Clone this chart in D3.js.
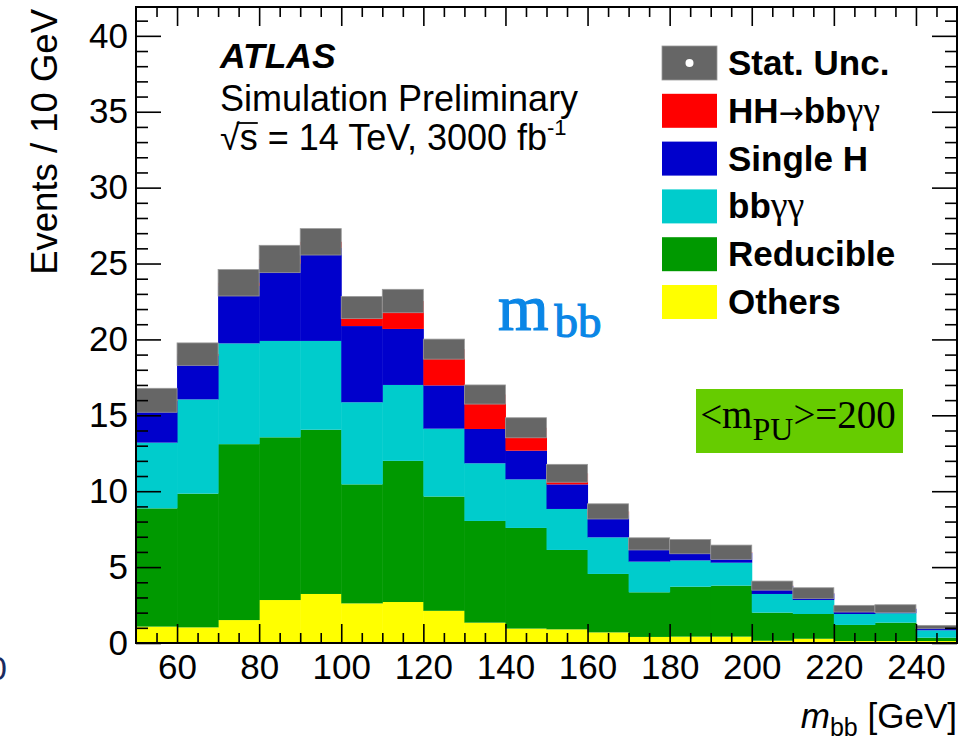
<!DOCTYPE html>
<html>
<head>
<meta charset="utf-8">
<script src="https://cdn.jsdelivr.net/npm/d3@7"></script>
<style>
  body { margin: 0; background: #fff; }
  svg { display: block; font-family: "Liberation Sans", Arial, sans-serif; }
</style>
</head>
<body>
<div id="chart"></div>
<script>
// bins of 10 GeV, lower edges
let binLow = [50, 60, 70, 80, 90, 100, 110, 120, 130, 140, 150, 160, 170, 180, 190, 200, 210, 220, 230, 240];
let binWidth = 10;

// stacked contributions, bottom to top
let others    = [1.08, 1.03, 1.51, 2.83, 3.23, 2.61, 2.70, 2.12, 1.34, 0.95, 0.90, 0.70, 0.40, 0.42, 0.42, 0.15, 0.28, 0.13, 0.13, 0.13];
let reducible = [7.79, 8.81, 11.59, 10.72, 10.82, 7.84, 9.30, 7.53, 6.70, 6.63, 5.23, 3.85, 2.94, 3.29, 3.36, 1.85, 1.63, 1.06, 1.21, 0.22];
let bbyy      = [4.33, 6.21, 6.64, 6.35, 5.85, 5.41, 5.00, 4.47, 3.80, 3.20, 2.70, 2.41, 2.02, 1.73, 1.51, 1.23, 0.92, 0.72, 0.62, 0.49];
let singleH   = [2.74, 2.88, 3.79, 5.10, 6.13, 5.02, 3.69, 2.85, 2.26, 1.89, 1.62, 1.46, 1.05, 0.83, 0.64, 0.52, 0.43, 0.33, 0.29, 0.20];
let hhSignal  = [0.05, 0.10, 0.20, 0.30, 0.40, 1.22, 1.84, 2.39, 2.27, 1.51, 0.73, 0.25, 0.12, 0.08, 0.05, 0.03, 0.02, 0.02, 0.01, 0.01];
let statUnc   = [0.79, 0.74, 0.87, 0.90, 0.87, 0.73, 0.77, 0.66, 0.63, 0.66, 0.59, 0.50, 0.40, 0.47, 0.47, 0.30, 0.36, 0.22, 0.26, 0.11];

let xMajorTicks = [60, 80, 100, 120, 140, 160, 180, 200, 220, 240];
let yMajorTicks = [0, 5, 10, 15, 20, 25, 30, 35, 40];

let layers = [
  { key: "others",    values: others,    color: "#ffff00", label: [["Others", "b"]] },
  { key: "reducible", values: reducible, color: "#009900", label: [["Reducible", "b"]] },
  { key: "bbyy",      values: bbyy,      color: "#00cccc", label: [["bb", "b"], ["γγ", "g"]] },
  { key: "singleH",   values: singleH,   color: "#0000cc", label: [["Single H", "b"]] },
  { key: "hh",        values: hhSignal,  color: "#ff0000", label: [["HH", "b"], ["→", "a"], ["bb", "b"], ["γγ", "g"]] }
];

let svgWidth = 972;
let svgHeight = 740;
let plot = { left: 136, right: 957, top: 7, bottom: 643 };

let svg = d3.select("#chart").append("svg").attr("width", svgWidth).attr("height", svgHeight);

let x = d3.scaleLinear().domain([50, 250]).range([plot.left, plot.right]);
let y = d3.scaleLinear().domain([0, 41.9]).range([plot.bottom, plot.top]);

// stacked table
let table = binLow.map((lo, i) => {
  let row = { lo: lo };
  layers.forEach(l => row[l.key] = l.values[i]);
  return row;
});
let stack = d3.stack().keys(layers.map(l => l.key))(table);

let histGroup = svg.append("g");
stack.forEach((series, si) => {
  histGroup.append("g")
    .attr("fill", layers[si].color)
    .selectAll("rect")
    .data(series)
    .enter()
    .append("rect")
    .attr("x", d => x(d.data.lo))
    .attr("width", d => x(d.data.lo + binWidth) - x(d.data.lo) + 0.5)
    .attr("y", d => y(d[1]))
    .attr("height", d => y(d[0]) - y(d[1]));
});

// stat. uncertainty band around the total
let totals = binLow.map((lo, i) => d3.sum(layers, l => l.values[i]));
histGroup.append("g")
  .selectAll("rect")
  .data(binLow)
  .enter()
  .append("rect")
  .attr("x", d => x(d))
  .attr("width", d => x(d + binWidth) - x(d))
  .attr("y", (d, i) => y(totals[i] + statUnc[i]))
  .attr("height", (d, i) => y(totals[i] - statUnc[i]) - y(totals[i] + statUnc[i]))
  .attr("fill", "#666666")
  .attr("stroke", "#999999")
  .attr("stroke-width", 0.8);

// Axes ==========================
let tickStyle = g => {
  g.select(".domain").remove();
  g.selectAll("line").attr("stroke", "#000").attr("stroke-width", 1.6);
  g.selectAll("text").attr("font-size", 35).attr("fill", "#000")
    .attr("font-family", "'Liberation Sans', Arial, sans-serif");
};

let xMinor = d3.range(55, 250, 5).filter(v => xMajorTicks.indexOf(v) < 0);
let yMinor = d3.range(1, 42, 1).filter(v => v % 5 !== 0);

// bottom
svg.append("g").attr("transform", `translate(0, ${plot.bottom})`)
  .call(d3.axisBottom(x).tickValues(xMajorTicks).tickSize(-19).tickPadding(11).tickFormat(d3.format("d")))
  .call(tickStyle);
svg.append("g").attr("transform", `translate(0, ${plot.bottom})`)
  .call(d3.axisBottom(x).tickValues(xMinor).tickSize(-10).tickFormat(""))
  .call(tickStyle);
// top
svg.append("g").attr("transform", `translate(0, ${plot.top})`)
  .call(d3.axisTop(x).tickValues(xMajorTicks).tickSize(-19).tickFormat(""))
  .call(tickStyle);
svg.append("g").attr("transform", `translate(0, ${plot.top})`)
  .call(d3.axisTop(x).tickValues(xMinor).tickSize(-10).tickFormat(""))
  .call(tickStyle);
// left
svg.append("g").attr("transform", `translate(${plot.left}, 0)`)
  .call(d3.axisLeft(y).tickValues(yMajorTicks).tickSize(-25).tickPadding(8).tickFormat(d3.format("d")))
  .call(tickStyle);
svg.append("g").attr("transform", `translate(${plot.left}, 0)`)
  .call(d3.axisLeft(y).tickValues(yMinor).tickSize(-12).tickFormat(""))
  .call(tickStyle);
// right
svg.append("g").attr("transform", `translate(${plot.right}, 0)`)
  .call(d3.axisRight(y).tickValues(yMajorTicks).tickSize(-25).tickFormat(""))
  .call(tickStyle);
svg.append("g").attr("transform", `translate(${plot.right}, 0)`)
  .call(d3.axisRight(y).tickValues(yMinor).tickSize(-12).tickFormat(""))
  .call(tickStyle);

// frame
svg.append("rect")
  .attr("x", plot.left).attr("y", plot.top)
  .attr("width", plot.right - plot.left).attr("height", plot.bottom - plot.top)
  .attr("fill", "none").attr("stroke", "#000").attr("stroke-width", 2);

// Axis titles ===================
svg.append("text")
  .attr("transform", "translate(57, 9) rotate(-90)")
  .attr("text-anchor", "end")
  .attr("font-size", 36.5)
  .text("Events / 10 GeV");

let xTitle = svg.append("text")
  .attr("x", 957).attr("y", 728)
  .attr("text-anchor", "end")
  .attr("font-size", 35);
xTitle.append("tspan").attr("font-style", "italic").text("m");
xTitle.append("tspan").attr("font-size", 25).attr("dy", 8).text("bb");
xTitle.append("tspan").attr("dy", -8).text(" [GeV]");

// ATLAS label ===================
svg.append("text").attr("x", 220).attr("y", 68)
  .attr("font-size", 35.5).attr("font-weight", "bold").attr("font-style", "italic")
  .text("ATLAS");
svg.append("text").attr("x", 220).attr("y", 111)
  .attr("font-size", 36)
  .text("Simulation Preliminary");
let energy = svg.append("text").attr("x", 220).attr("y", 150).attr("font-size", 36);
let energyMain = energy.append("tspan").text("√s = 14 TeV, 3000 fb");
energy.append("tspan").attr("font-size", 22).attr("dy", -15).text("-1");
// bar of the square root over "s"
let sqrtW = energyMain.node().getSubStringLength(0, 1);
let sW = energyMain.node().getSubStringLength(1, 1);
svg.append("line")
  .attr("x1", 220 + sqrtW - 3).attr("x2", 220 + sqrtW + sW)
  .attr("y1", 150 - 27).attr("y2", 150 - 27)
  .attr("stroke", "#000").attr("stroke-width", 1.8);

// m_bb blue label
let mbb = svg.append("text").attr("x", 498).attr("y", 330)
  .attr("fill", "#0a86e6")
  .attr("stroke", "#0a86e6").attr("stroke-width", 1.2)
  .attr("font-family", "'Liberation Serif', 'Times New Roman', serif")
  .attr("font-size", 65);
mbb.append("tspan").text("m");
mbb.append("tspan").attr("font-size", 47).attr("dy", 7).attr("dx", 6).text("bb");

// pile-up box
svg.append("rect").attr("x", 696).attr("y", 389).attr("width", 207).attr("height", 64)
  .attr("fill", "#66cc00");
let pu = svg.append("text").attr("x", 798).attr("y", 428)
  .attr("text-anchor", "middle")
  .attr("font-family", "'Liberation Serif', 'Times New Roman', serif")
  .attr("font-size", 39);
pu.append("tspan").text("<m");
pu.append("tspan").attr("font-size", 32).attr("dy", 12).text("PU");
pu.append("tspan").attr("dy", -12).text(">=200");

// Legend ========================
let legendItems = [{ label: [["Stat. Unc.", "b"]], color: "#666666", dot: true }]
  .concat(layers.slice().reverse().map(l => ({ label: l.label, color: l.color, dot: false })));

let legend = svg.append("g").attr("transform", "translate(662, 46)");
legendItems.forEach((d, i) => {
  let row = legend.append("g").attr("transform", `translate(0, ${i * 47.8})`);
  row.append("rect").attr("width", 55).attr("height", 34).attr("fill", d.color)
    .attr("stroke", d.dot ? "#999" : "none").attr("stroke-width", 0.8);
  if (d.dot) row.append("circle").attr("cx", 27.5).attr("cy", 17).attr("r", 4).attr("fill", "#fff");
  let txt = row.append("text").attr("x", 66).attr("y", 29).attr("font-size", 35);
  d.label.forEach(part => {
    let t = txt.append("tspan").text(part[0]);
    if (part[1] === "b") t.attr("font-weight", "bold");
    if (part[1] === "a") t.attr("font-family", "'DejaVu Sans', sans-serif").attr("font-size", 30);
    if (part[1] === "g") t.attr("font-family", "'Liberation Serif', 'Times New Roman', serif").attr("font-size", 38);
  });
});

// clipped stray glyph on the far left edge
svg.append("text").attr("x", -12).attr("y", 680)
  .attr("font-size", 34).attr("fill", "#1a2a60").text("0");
</script>
</body>
</html>
